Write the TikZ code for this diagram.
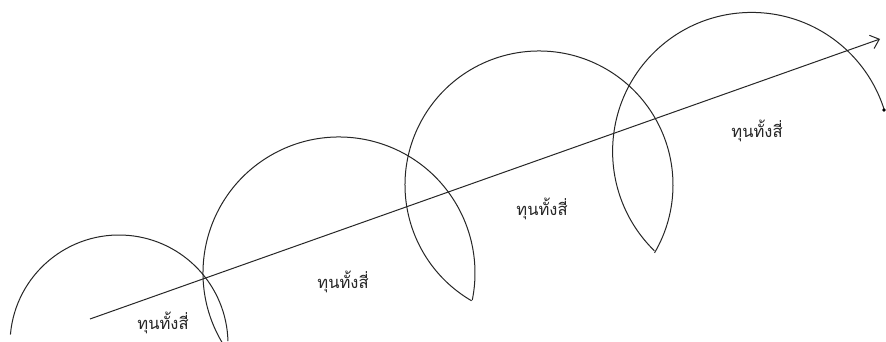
\documentclass[tikz,border=0pt]{standalone}
\usepackage{fontspec}
\newfontfamily\thaifont[Script=Thai]{Loma}
\usetikzlibrary{arrows.meta}
\begin{document}
\begin{tikzpicture}[x=1pt,y=1pt,
  curve/.style={line width=1pt,draw=black!85},
  lbl/.style={font=\thaifont\fontsize{16.5}{19}\selectfont,inner sep=0pt,text=black!85}]
\useasboundingbox (0,0) rectangle (886,342);
\fill[white] (0,0) rectangle (886,342);
% circle centres
\coordinate (c1) at (119,-2);
\coordinate (c2) at (339,69);
\coordinate (c3) at (539,157);
\coordinate (c4) at (753,192);
% arcs
\draw[curve] ([shift={(175:109)}]c1) arc[start angle=175,end angle=1.5,radius=109];
\draw[curve] ([shift={(211:136)}]c2) arc[start angle=211,end angle=-11.5,radius=136];
\draw[curve] ([shift={(239.8:134)}]c3) arc[start angle=239.8,end angle=-30.4,radius=134];
\draw[curve] ([shift={(225.6:141)}]c4) arc[start angle=225.6,end angle=17,radius=139];
\coordinate (dot) at (884,232);
\fill[black] (dot) circle (1.8);
% arrow
\coordinate (a0) at (90,23);
\coordinate (a1) at (880,303);
\draw[curve,-{Straight Barb[length=8pt,width=14pt,line width=1pt]}] (a0) -- (a1);
% labels
\node[lbl] (l1) at (163,19) {ทุนทั้งสี่};
\node[lbl] (l2) at (343,60) {ทุนทั้งสี่};
\node[lbl] (l3) at (542,133) {ทุนทั้งสี่};
\node[lbl] (l4) at (757,211) {ทุนทั้งสี่};
\end{tikzpicture}
\end{document}
